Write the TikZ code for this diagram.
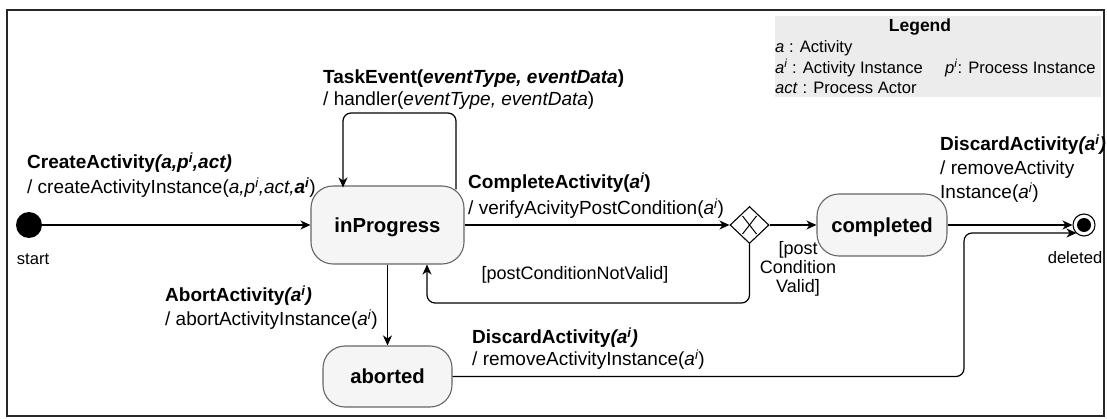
\documentclass[tikz,border=0pt]{standalone}
\usepackage{fontspec}
\setmainfont{Liberation Sans}
\usetikzlibrary{shapes.geometric,arrows.meta}
\newcommand\lblf{\fontsize{19}{22}\selectfont}
\newcommand\grdf{\fontsize{18}{21}\selectfont}
\newcommand\smlf{\fontsize{16.6}{19}\selectfont}
\newcommand\stf{\fontsize{20.3}{24}\selectfont\bfseries}
\newcommand\sps[1]{\textsuperscript{#1}}
\definecolor{statefill}{HTML}{F5F5F5}
\definecolor{stateline}{HTML}{666666}
\definecolor{legfill}{HTML}{ECECEC}
\begin{document}
\begin{tikzpicture}[x=1pt,y=-1pt,
  statebox/.style={draw=stateline,fill=statefill,line width=1.1pt,rounded corners=22pt,
    inner sep=0pt,text height=14.5pt,text depth=0pt,font=\stf},
  arr/.style={line width=1.2pt,-{Stealth[length=10pt,width=9pt,inset=3pt]}},
  txt/.style={inner sep=0pt,anchor=base west,font=\lblf},
  grd/.style={inner sep=0pt,anchor=base,font=\grdf},
  legtxt/.style={inner sep=0pt,anchor=base west,font=\smlf}]
\useasboundingbox (0,0) rectangle (1107,419);
\draw[line width=1.2pt,black!85] (7,10) rectangle (1104,416);
% legend
\node[fill=legfill,minimum width=326pt,minimum height=81pt,inner sep=0pt] (leg) at (938,56.5) {};
\node[inner sep=0pt,anchor=base,font=\fontsize{17.5}{20}\selectfont\bfseries] (legt) at (920,32) {Legend};
\node[legtxt] (l1) at (775,53) {\textit{a} : Activity};
\node[legtxt] (l2) at (775,74) {\textit{a\sps{i}} : Activity Instance};
\node[legtxt] (l3) at (945,74) {\textit{p\sps{i}}: Process Instance};
\node[legtxt] (l4) at (775,94) {\textit{act} : Process Actor};
% states
\node[circle,fill=black,minimum size=26pt,inner sep=0pt] (start) at (29,225) {};
\node[inner sep=0pt,anchor=base,font=\smlf] (startl) at (33,265) {start};
\node[statebox,minimum width=153pt,minimum height=78pt] (inP) at (387.5,225) {inProgress};
\node[diamond,draw,fill=white,line width=1.1pt,minimum width=39pt,minimum height=37pt,inner sep=0pt] (dia) at (749.5,225) {};
\draw[line width=1pt] ([shift={(-7,-9)}]dia.center) -- ([shift={(7,9)}]dia.center);
\draw[line width=1pt] ([shift={(7,-9)}]dia.center) -- ([shift={(-7,9)}]dia.center);
\node[statebox,minimum width=130pt,minimum height=62pt] (comp) at (882,225) {completed};
\node[circle,draw,fill=white,line width=1.1pt,minimum size=22pt,inner sep=0pt] (endc) at (1084,225) {};
\fill (endc.center) circle (7pt);
\node[inner sep=0pt,anchor=base,font=\smlf] (endl) at (1075,264) {deleted};
\node[statebox,minimum width=129pt,minimum height=61pt] (abo) at (387.5,376.5) {aborted};
% connectors
\draw[arr] (start) -- (inP);
\coordinate (loopTop) at (400,113);
\draw[arr,rounded corners=8pt] ([xshift=68.5pt,yshift=-4pt]inP.north) |- (loopTop) -| ([xshift=-44.5pt,yshift=-2pt]inP.north);
\draw[arr] (inP) -- (dia);
\draw[arr] (dia) -- (comp);
\draw[arr,rounded corners=8pt] (dia.south) -- (dia.south |- 0,303) -| ([xshift=39.5pt]inP.south);
\draw[arr] (inP) -- (abo);
\draw[arr] (comp) -- (endc);
\coordinate (bend) at (964,233);
\draw[arr,rounded corners=8pt] (abo.east) -| (bend) -- ([xshift=-7.5pt,yshift=-8pt]endc.center);
% labels
\node[txt] (t1) at (323,84) {\textbf{TaskEvent(\textit{eventType, eventData})}};
\node[txt] (t2) at (323,106) {/ handler(\textit{eventType, eventData})};
\node[txt] (c1) at (27,168.5) {\textbf{CreateActivity\textit{(a,p\sps{i},act)}}};
\node[txt] (c2) at (27,193.5) {/ createActivityInstance(\textit{a,p\sps{i},act,\textbf{a\sps{i}}})};
\node[txt] (v1) at (468,188.5) {\textbf{CompleteActivity(\textit{a\sps{i}})}};
\node[txt] (v2) at (468,214.5) {/ verifyAcivityPostCondition(\textit{a\sps{i}})};
\node[txt] (d1) at (940,150.5) {\textbf{DiscardActivity\textit{(a\sps{i})}}};
\node[txt] (d2) at (940,174.5) {/ removeActivity};
\node[txt] (d3) at (940,198.5) {Instance(\textit{a\sps{i}})};
\node[grd] (nv) at (575,279.5) {[postConditionNotValid]};
\node[grd] (pv1) at (798,254.5) {[post};
\node[grd] (pv2) at (798,273.5) {Condition};
\node[grd] (pv3) at (798,292.5) {Valid]};
\node[txt] (a1) at (165,301.5) {\textbf{AbortActivity\textit{(a\sps{i})}}};
\node[txt] (a2) at (165,325.5) {/ abortActivityInstance(\textit{a\sps{i}})};
\node[txt] (b1) at (472,343.5) {\textbf{DiscardActivity\textit{(a\sps{i})}}};
\node[txt] (b2) at (472,365.5) {/ removeActivityInstance(\textit{a\sps{i}})};
\end{tikzpicture}
\end{document}
